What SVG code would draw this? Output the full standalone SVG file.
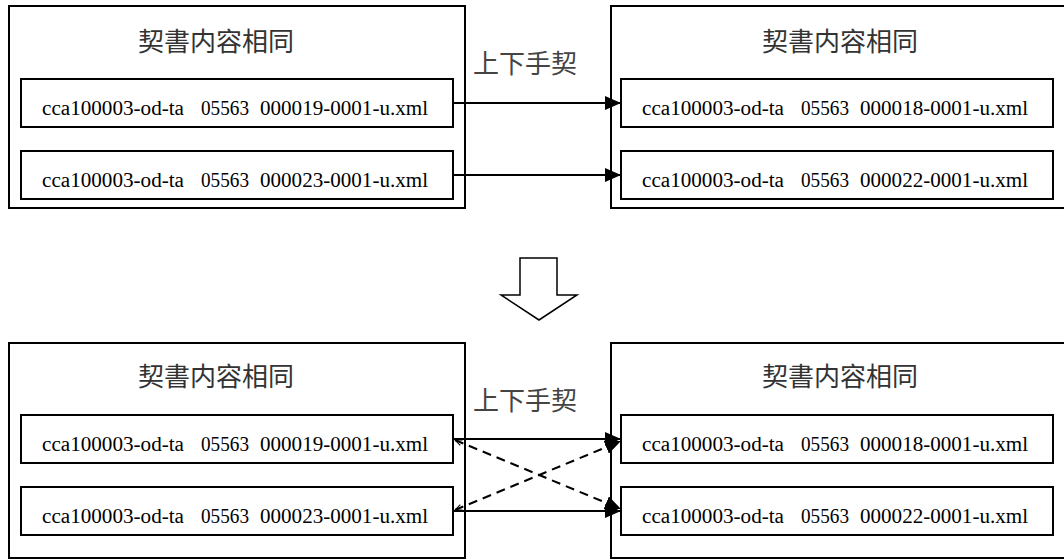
<svg xmlns="http://www.w3.org/2000/svg" width="1064" height="560" viewBox="0 0 1064 560">
<style>
.outer{fill:#fff;stroke:#000;stroke-width:2}
.inner{fill:#fff;stroke:#000;stroke-width:2}
.title{font-family:"Noto Sans CJK TC","Noto Sans CJK JP",sans-serif;font-size:26px;fill:#333}
.lbl{font-family:"Noto Sans CJK TC","Noto Sans CJK JP",sans-serif;font-size:26px;fill:#444}
.fn{font-family:"Liberation Serif","Times New Roman",serif;font-size:20.5px;fill:#000}
.conn{stroke:#000;stroke-width:2;fill:none}
.dash{stroke:#000;stroke-width:2;fill:none;stroke-dasharray:9,6}
</style>
<defs>
<marker id="ah" markerWidth="16" markerHeight="14" refX="16" refY="7" orient="auto" markerUnits="userSpaceOnUse">
<path d="M0,0 L16,7 L0,14 Z" fill="#000"/>
</marker>
<marker id="sm" markerWidth="8" markerHeight="8" refX="0" refY="4" orient="auto" markerUnits="userSpaceOnUse">
<path d="M7,1 L0,4 L7,7" fill="none" stroke="#000" stroke-width="1"/>
</marker>
</defs>

<g id="top-left">
<rect class="outer" x="9" y="6" width="456" height="202"/>
<text class="title" x="216" y="51" text-anchor="middle">契書内容相同</text>
<g id="tl1"><rect class="inner" x="21" y="79" width="432" height="48"/>
<text class="fn" y="115"><tspan x="42" textLength="142" lengthAdjust="spacingAndGlyphs">cca100003-od-ta</tspan><tspan x="201" textLength="48" lengthAdjust="spacingAndGlyphs">05563</tspan><tspan x="260" textLength="168" lengthAdjust="spacingAndGlyphs">000019-0001-u.xml</tspan></text></g>
<g id="tl2"><rect class="inner" x="21" y="151" width="432" height="48"/>
<text class="fn" y="187"><tspan x="42" textLength="142" lengthAdjust="spacingAndGlyphs">cca100003-od-ta</tspan><tspan x="201" textLength="48" lengthAdjust="spacingAndGlyphs">05563</tspan><tspan x="260" textLength="168" lengthAdjust="spacingAndGlyphs">000023-0001-u.xml</tspan></text></g>
</g>

<g id="top-right">
<rect class="outer" x="611" y="6" width="470" height="202"/>
<text class="title" x="840" y="51" text-anchor="middle">契書内容相同</text>
<g id="tr1"><rect class="inner" x="621" y="79" width="432" height="48"/>
<text class="fn" y="115"><tspan x="642" textLength="142" lengthAdjust="spacingAndGlyphs">cca100003-od-ta</tspan><tspan x="801" textLength="48" lengthAdjust="spacingAndGlyphs">05563</tspan><tspan x="860" textLength="168" lengthAdjust="spacingAndGlyphs">000018-0001-u.xml</tspan></text></g>
<g id="tr2"><rect class="inner" x="621" y="151" width="432" height="48"/>
<text class="fn" y="187"><tspan x="642" textLength="142" lengthAdjust="spacingAndGlyphs">cca100003-od-ta</tspan><tspan x="801" textLength="48" lengthAdjust="spacingAndGlyphs">05563</tspan><tspan x="860" textLength="168" lengthAdjust="spacingAndGlyphs">000022-0001-u.xml</tspan></text></g>
</g>

<g id="bottom-left">
<rect class="outer" x="9" y="343" width="456" height="215"/>
<text class="title" x="216" y="386" text-anchor="middle">契書内容相同</text>
<g id="bl1"><rect class="inner" x="21" y="415" width="432" height="48"/>
<text class="fn" y="451"><tspan x="42" textLength="142" lengthAdjust="spacingAndGlyphs">cca100003-od-ta</tspan><tspan x="201" textLength="48" lengthAdjust="spacingAndGlyphs">05563</tspan><tspan x="260" textLength="168" lengthAdjust="spacingAndGlyphs">000019-0001-u.xml</tspan></text></g>
<g id="bl2"><rect class="inner" x="21" y="487" width="432" height="48"/>
<text class="fn" y="523"><tspan x="42" textLength="142" lengthAdjust="spacingAndGlyphs">cca100003-od-ta</tspan><tspan x="201" textLength="48" lengthAdjust="spacingAndGlyphs">05563</tspan><tspan x="260" textLength="168" lengthAdjust="spacingAndGlyphs">000023-0001-u.xml</tspan></text></g>
</g>

<g id="bottom-right">
<rect class="outer" x="611" y="343" width="470" height="215"/>
<text class="title" x="840" y="386" text-anchor="middle">契書内容相同</text>
<g id="br1"><rect class="inner" x="621" y="415" width="432" height="48"/>
<text class="fn" y="451"><tspan x="642" textLength="142" lengthAdjust="spacingAndGlyphs">cca100003-od-ta</tspan><tspan x="801" textLength="48" lengthAdjust="spacingAndGlyphs">05563</tspan><tspan x="860" textLength="168" lengthAdjust="spacingAndGlyphs">000018-0001-u.xml</tspan></text></g>
<g id="br2"><rect class="inner" x="621" y="487" width="432" height="48"/>
<text class="fn" y="523"><tspan x="642" textLength="142" lengthAdjust="spacingAndGlyphs">cca100003-od-ta</tspan><tspan x="801" textLength="48" lengthAdjust="spacingAndGlyphs">05563</tspan><tspan x="860" textLength="168" lengthAdjust="spacingAndGlyphs">000022-0001-u.xml</tspan></text></g>
</g>

<g id="down-arrow">
<path d="M520,258 L557,258 L557,295 L577,295 L539,320 L501,295 L520,295 Z" fill="#fff" stroke="#000" stroke-width="1.5"/>
</g>

<g id="connectors">
<text class="lbl" x="473" y="73">上下手契</text>
<line class="conn" x1="453" y1="103" x2="621" y2="103" marker-end="url(#ah)"/>
<line class="conn" x1="453" y1="175" x2="621" y2="175" marker-end="url(#ah)"/>
<text class="lbl" x="473" y="410">上下手契</text>
<line class="conn" x1="453" y1="439" x2="621" y2="439" marker-end="url(#ah)"/>
<line class="conn" x1="453" y1="511" x2="621" y2="511" marker-end="url(#ah)"/>
<line class="dash" x1="455" y1="440" x2="621" y2="509" marker-start="url(#sm)" marker-end="url(#ah)"/>
<line class="dash" x1="455" y1="510" x2="621" y2="441" marker-start="url(#sm)" marker-end="url(#ah)"/>
</g>
</svg>
